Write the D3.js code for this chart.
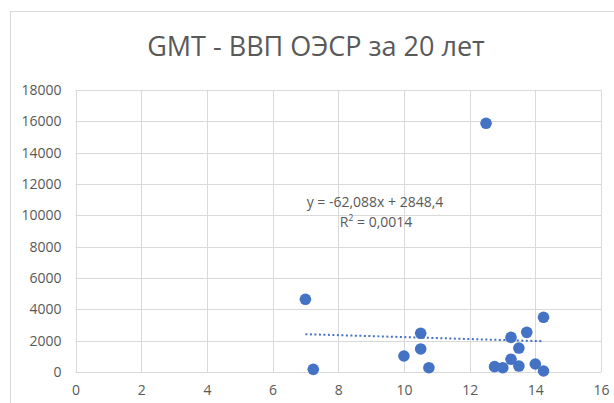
<!DOCTYPE html>
<html><head><meta charset="utf-8">
<script src="https://cdn.jsdelivr.net/npm/d3@7"></script>
<style>body{margin:0;background:#fff}svg{display:block}</style>
</head><body><svg id="c" width="614" height="403"></svg>
<script>
const xVals = [7, 7.24, 10, 10.51, 10.51, 10.76, 12.76, 13.01, 13.26, 13.26, 13.5, 13.5, 13.74, 14, 14.25, 14.25, 12.5];
const yVals = [4640, 170, 1020, 2470, 1470, 275, 340, 275, 2210, 810, 1530, 380, 2530, 510, 3490, 64, 15875];
const xTicks = [0, 2, 4, 6, 8, 10, 12, 14, 16];
const yTicks = [0, 2000, 4000, 6000, 8000, 10000, 12000, 14000, 16000, 18000];
const trendSlope = -62.088, trendIntercept = 2848.4;
const titleText = "GMT - ВВП ОЭСР за 20 лет";
const eqText = "y = -62,088x + 2848,4";

const svg = d3.select("#c");
const font = "'Open Sans', 'Liberation Sans', sans-serif";
const grey = "#595959";
// frame
svg.append("rect").attr("x",10.5).attr("y",11.5).attr("width",640).attr("height",420)
  .attr("fill","#fff").attr("stroke","#d9d9d9").attr("stroke-width",1);

const x = d3.scaleLinear().domain([0,16]).range([75.5,601]);
const y = d3.scaleLinear().domain([0,18000]).range([372,90]);

// gridlines
const g = svg.append("g");
g.selectAll(".hg").data(yTicks).join("line")
  .attr("x1",x(0)).attr("x2",x(16)).attr("y1",d=>Math.round(y(d))+0.5).attr("y2",d=>Math.round(y(d))+0.5)
  .attr("stroke","#d9d9d9");
g.selectAll(".vg").data(xTicks).join("line")
  .attr("y1",y(0)).attr("y2",y(18000)).attr("x1",d=>Math.round(x(d))+0.5).attr("x2",d=>Math.round(x(d))+0.5)
  .attr("stroke","#d9d9d9");

// axes labels
const yAxis = d3.axisLeft(y).tickValues(yTicks).tickSize(0).tickPadding(14).tickFormat(d3.format("d"));
const ya = svg.append("g").attr("transform",`translate(${x(0)},0)`).call(yAxis);
ya.select(".domain").remove();
ya.selectAll("text").attr("fill",grey).attr("font-size",14).attr("font-family",font);
const xAxis = d3.axisBottom(x).tickValues(xTicks).tickSize(0).tickPadding(13).tickFormat(d3.format("d"));
const xa = svg.append("g").attr("transform",`translate(0,${y(0)})`).call(xAxis);
xa.select(".domain").remove();
xa.selectAll("text").attr("fill",grey).attr("font-size",14).attr("font-family",font);

// trendline
const x0 = d3.min(xVals), x1 = d3.max(xVals);
svg.append("line")
  .attr("x1",x(x0)).attr("x2",x(x1))
  .attr("y1",y(trendSlope*x0+trendIntercept)).attr("y2",y(trendSlope*x1+trendIntercept))
  .attr("stroke","#4472c4").attr("stroke-width",2).attr("stroke-dasharray","2,2.5");

// points
svg.selectAll(".pt").data(xVals.map((v,i)=>[v,yVals[i]])).join("circle")
  .attr("cx",d=>x(d[0])).attr("cy",d=>y(d[1])).attr("r",5.8).attr("fill","#4472c4");

// title
svg.append("text").attr("x",316).attr("y",56).attr("text-anchor","middle")
  .attr("font-family",font).attr("font-size",27).attr("fill",grey).text(titleText);

// equation
svg.append("text").attr("x",375).attr("y",207).attr("text-anchor","middle")
  .attr("font-family",font).attr("font-size",14).attr("fill",grey).text(eqText);
const r2 = svg.append("text").attr("x",376).attr("y",227).attr("text-anchor","middle")
  .attr("font-family",font).attr("font-size",14).attr("fill",grey);
r2.append("tspan").text("R");
r2.append("tspan").attr("font-size",9).attr("dy",-6).text("2");
r2.append("tspan").attr("dy",6).text(" = 0,0014");
</script></body></html>
